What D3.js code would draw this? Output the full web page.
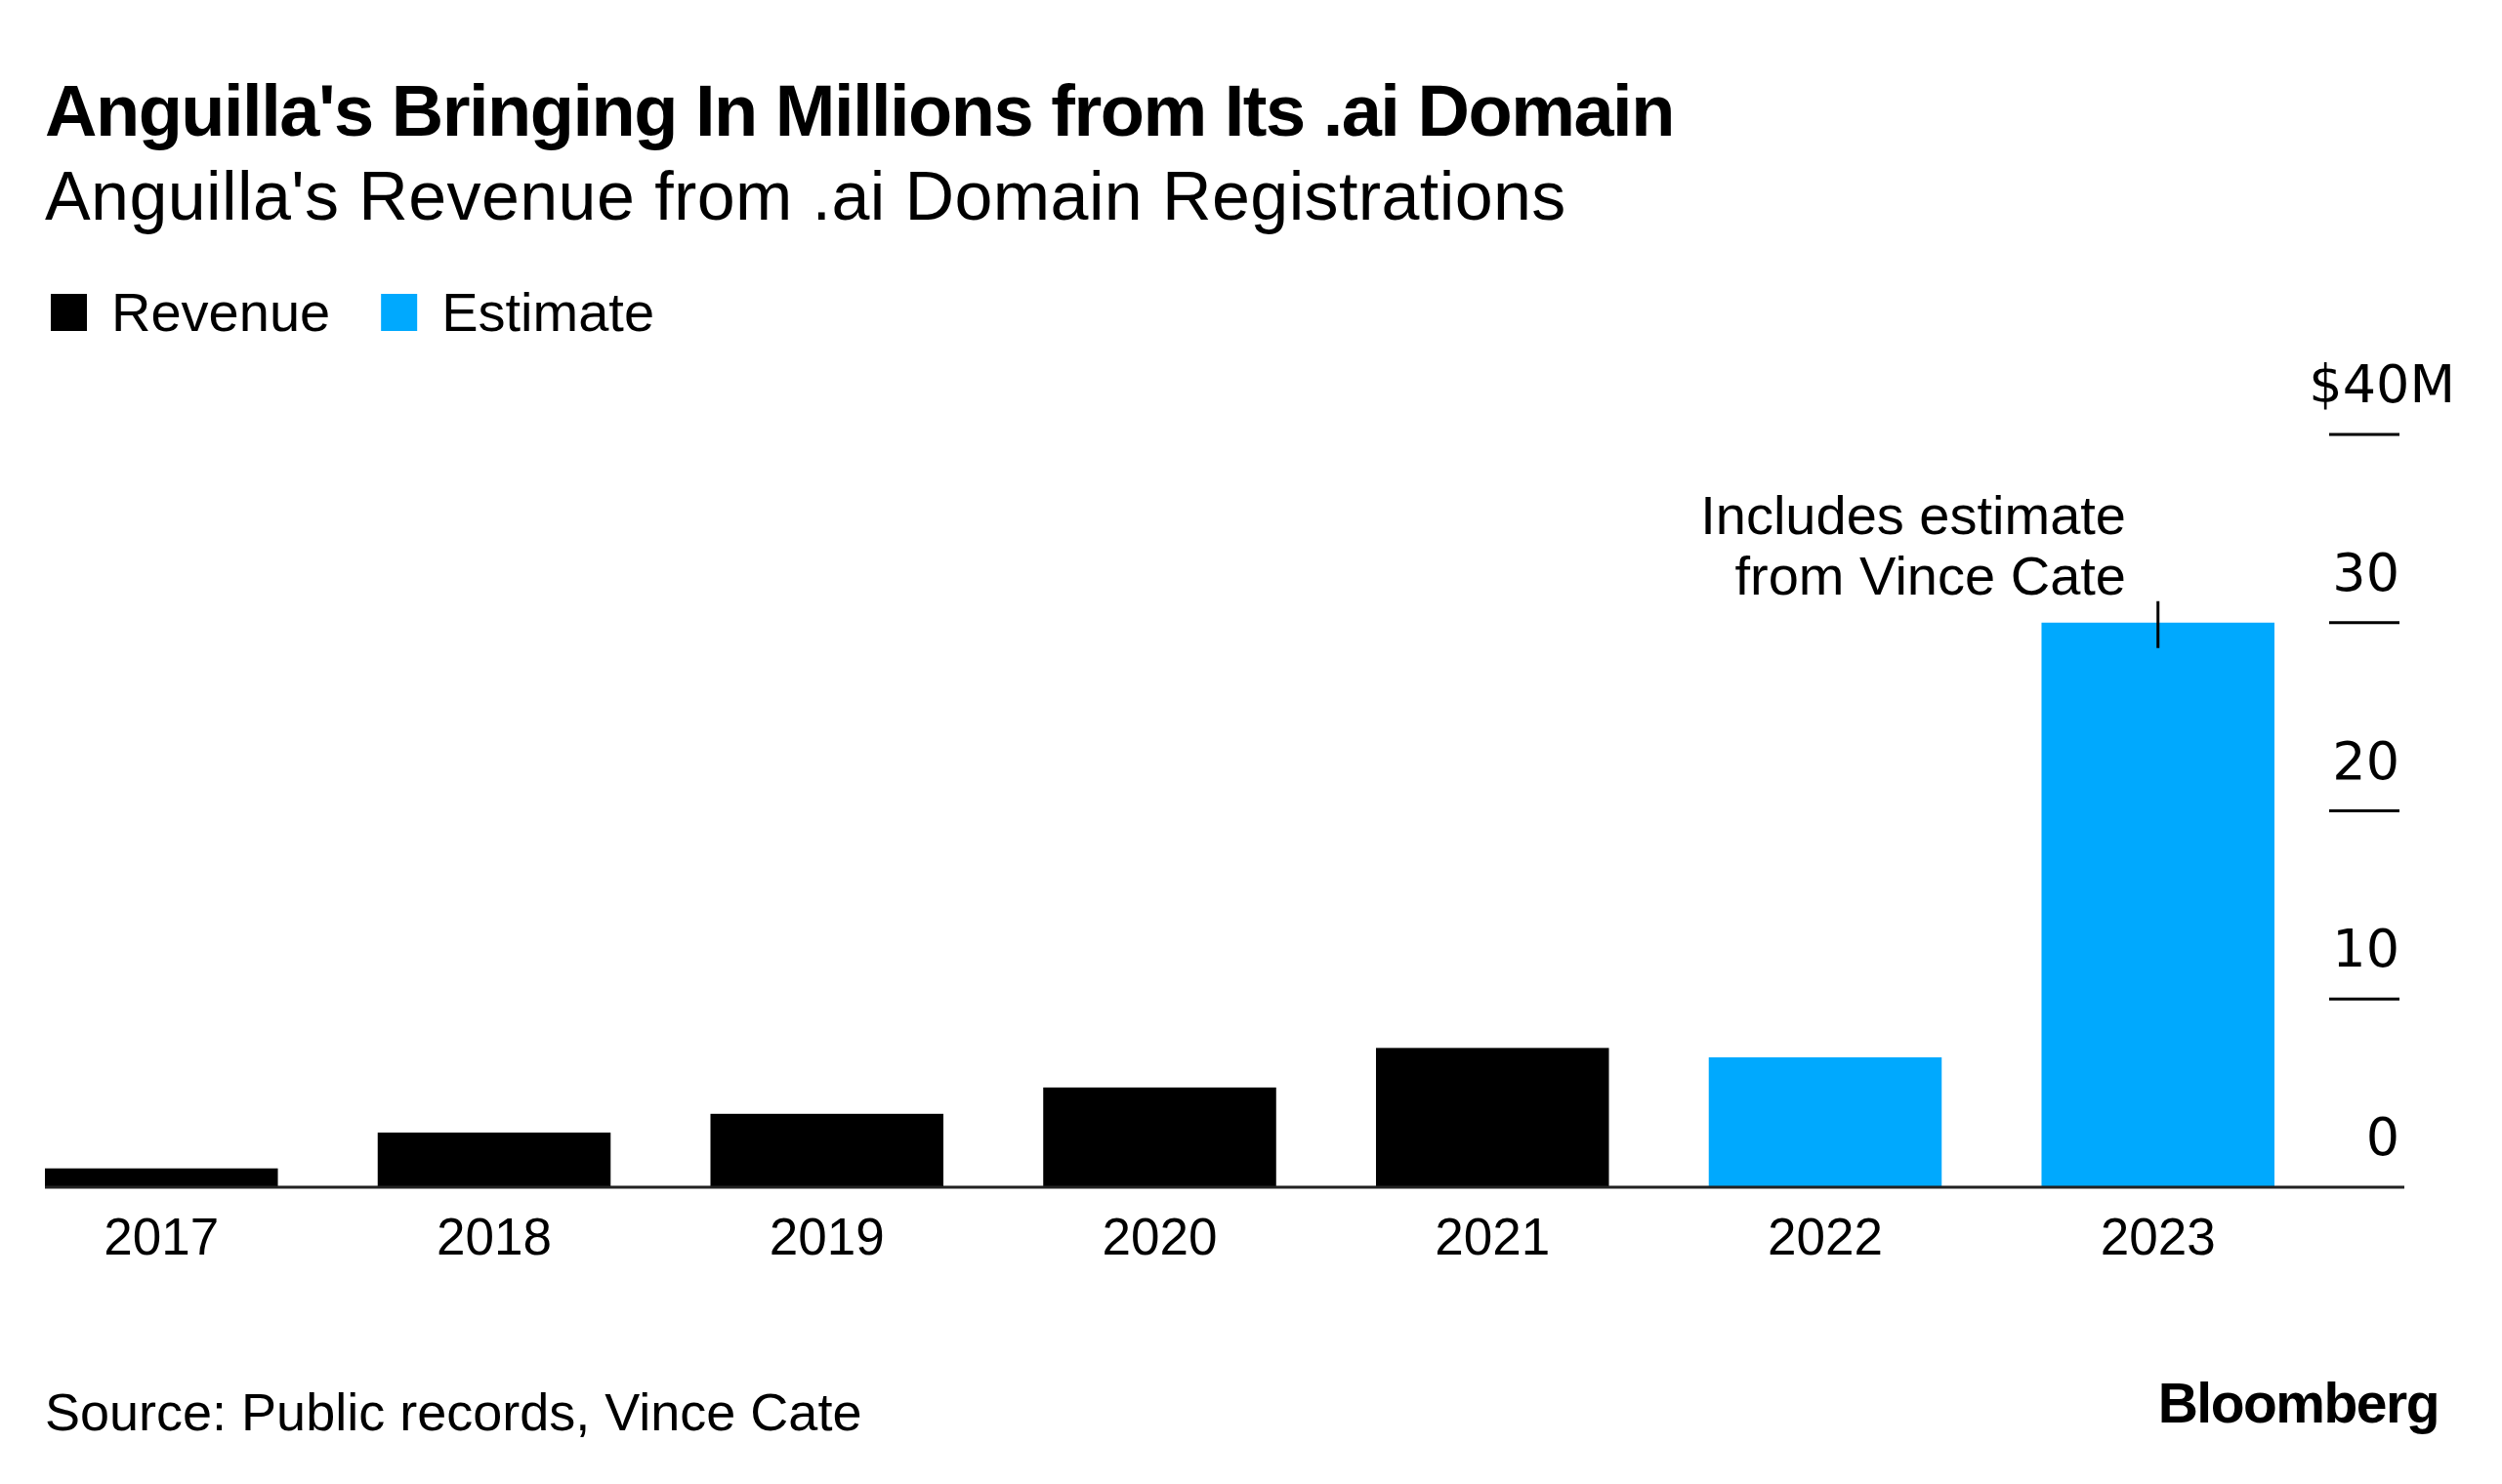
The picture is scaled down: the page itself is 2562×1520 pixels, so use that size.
<!DOCTYPE html>
<html>
<head>
<meta charset="utf-8">
<script src="https://cdn.jsdelivr.net/npm/d3@7"></script>
<style>
  body { margin: 0; background: #fff; }
  svg text { font-family: "Liberation Sans", Arial, sans-serif; fill: #000; }
</style>
</head>
<body>
<svg id="chart" width="2562" height="1520"></svg>
<script>
// values (millions of dollars)
const years = ['2017', '2018', '2019', '2020', '2021', '2022', '2023']
const revenue = [1.0, 2.9, 3.9, 5.3, 7.4, 6.9, 30]
const kinds = ['Revenue', 'Revenue', 'Revenue', 'Revenue', 'Revenue', 'Estimate', 'Estimate']
const legendItems = ['Revenue', 'Estimate']
const yTicks = [0, 10, 20, 30, 40]

const colors = { Revenue: '#000000', Estimate: '#00a9fe' }

const svg = d3.select('#chart')
const margin = { left: 46, top: 445, bottom: 1216 }

const x = d3.scaleBand()
  .domain(years)
  .range([margin.left, 2329])
  .paddingInner(0.3)
  .paddingOuter(0)

const y = d3.scaleLinear()
  .domain([0, 40])
  .range([margin.bottom, margin.top])

// titles
svg.append('text')
  .attr('x', 46).attr('y', 139)
  .attr('font-size', 74).attr('font-weight', 'bold')
  .attr('letter-spacing', -1.5)
  .text("Anguilla's Bringing In Millions from Its .ai Domain")

svg.append('text')
  .attr('x', 46).attr('y', 225)
  .attr('font-size', 70)
  .attr('letter-spacing', 0.4)
  .text("Anguilla's Revenue from .ai Domain Registrations")

// legend
const legend = svg.append('g')
let lx = 52
legendItems.forEach(k => {
  legend.append('rect')
    .attr('x', lx).attr('y', 301)
    .attr('width', 37).attr('height', 38)
    .attr('fill', colors[k])
  const t = legend.append('text')
    .attr('x', lx + 62).attr('y', 339)
    .attr('font-size', 56)
    .text(k)
  lx += 62 + t.node().getComputedTextLength() + 52
})

// y axis ticks on the right
const yAxis = svg.append('g')
yTicks.forEach(t => {
  if (t > 0) {
    yAxis.append('line')
      .attr('x1', 2385).attr('x2', 2457)
      .attr('y1', y(t)).attr('y2', y(t))
      .attr('stroke', '#000').attr('stroke-width', 3)
  }
  yAxis.append('text')
    .attr('x', t === 40 ? 2514 : 2457)
    .attr('y', y(t) - 33)
    .attr('text-anchor', 'end')
    .attr('font-size', 54)
    .style('font-family', '"DejaVu Sans", sans-serif')
    .text(t === 40 ? `$${t}M` : t)
})

// bars
svg.append('g')
  .selectAll('rect')
  .data(years)
  .join('rect')
    .attr('x', d => x(d))
    .attr('y', (d, i) => y(revenue[i]))
    .attr('width', x.bandwidth())
    .attr('height', (d, i) => y(0) - y(revenue[i]))
    .attr('fill', (d, i) => colors[kinds[i]])

// baseline
svg.append('line')
  .attr('x1', 46).attr('x2', 2462)
  .attr('y1', y(0)).attr('y2', y(0))
  .attr('stroke', '#222').attr('stroke-width', 3)

// year labels
svg.append('g')
  .selectAll('text')
  .data(years)
  .join('text')
    .attr('x', d => x(d) + x.bandwidth() / 2)
    .attr('y', 1285)
    .attr('text-anchor', 'middle')
    .attr('font-size', 53)
    .text(d => d)

// annotation on 2023
const last = years[years.length - 1]
const cx = x(last) + x.bandwidth() / 2
svg.append('line')
  .attr('x1', cx).attr('x2', cx)
  .attr('y1', y(revenue[revenue.length - 1]) - 22)
  .attr('y2', y(revenue[revenue.length - 1]) + 26)
  .attr('stroke', '#000').attr('stroke-width', 3)

const note = svg.append('text')
  .attr('text-anchor', 'end')
  .attr('font-size', 56)
note.append('tspan').attr('x', 2177).attr('y', 547).text('Includes estimate')
note.append('tspan').attr('x', 2177).attr('y', 609).text('from Vince Cate')

// footer
svg.append('text')
  .attr('x', 46).attr('y', 1465)
  .attr('font-size', 54)
  .text('Source: Public records, Vince Cate')

svg.append('text')
  .attr('x', 2497).attr('y', 1457)
  .attr('text-anchor', 'end')
  .attr('font-size', 57).attr('font-weight', 'bold')
  .attr('letter-spacing', -1.5)
  .text('Bloomberg')
</script>
</body>
</html>
